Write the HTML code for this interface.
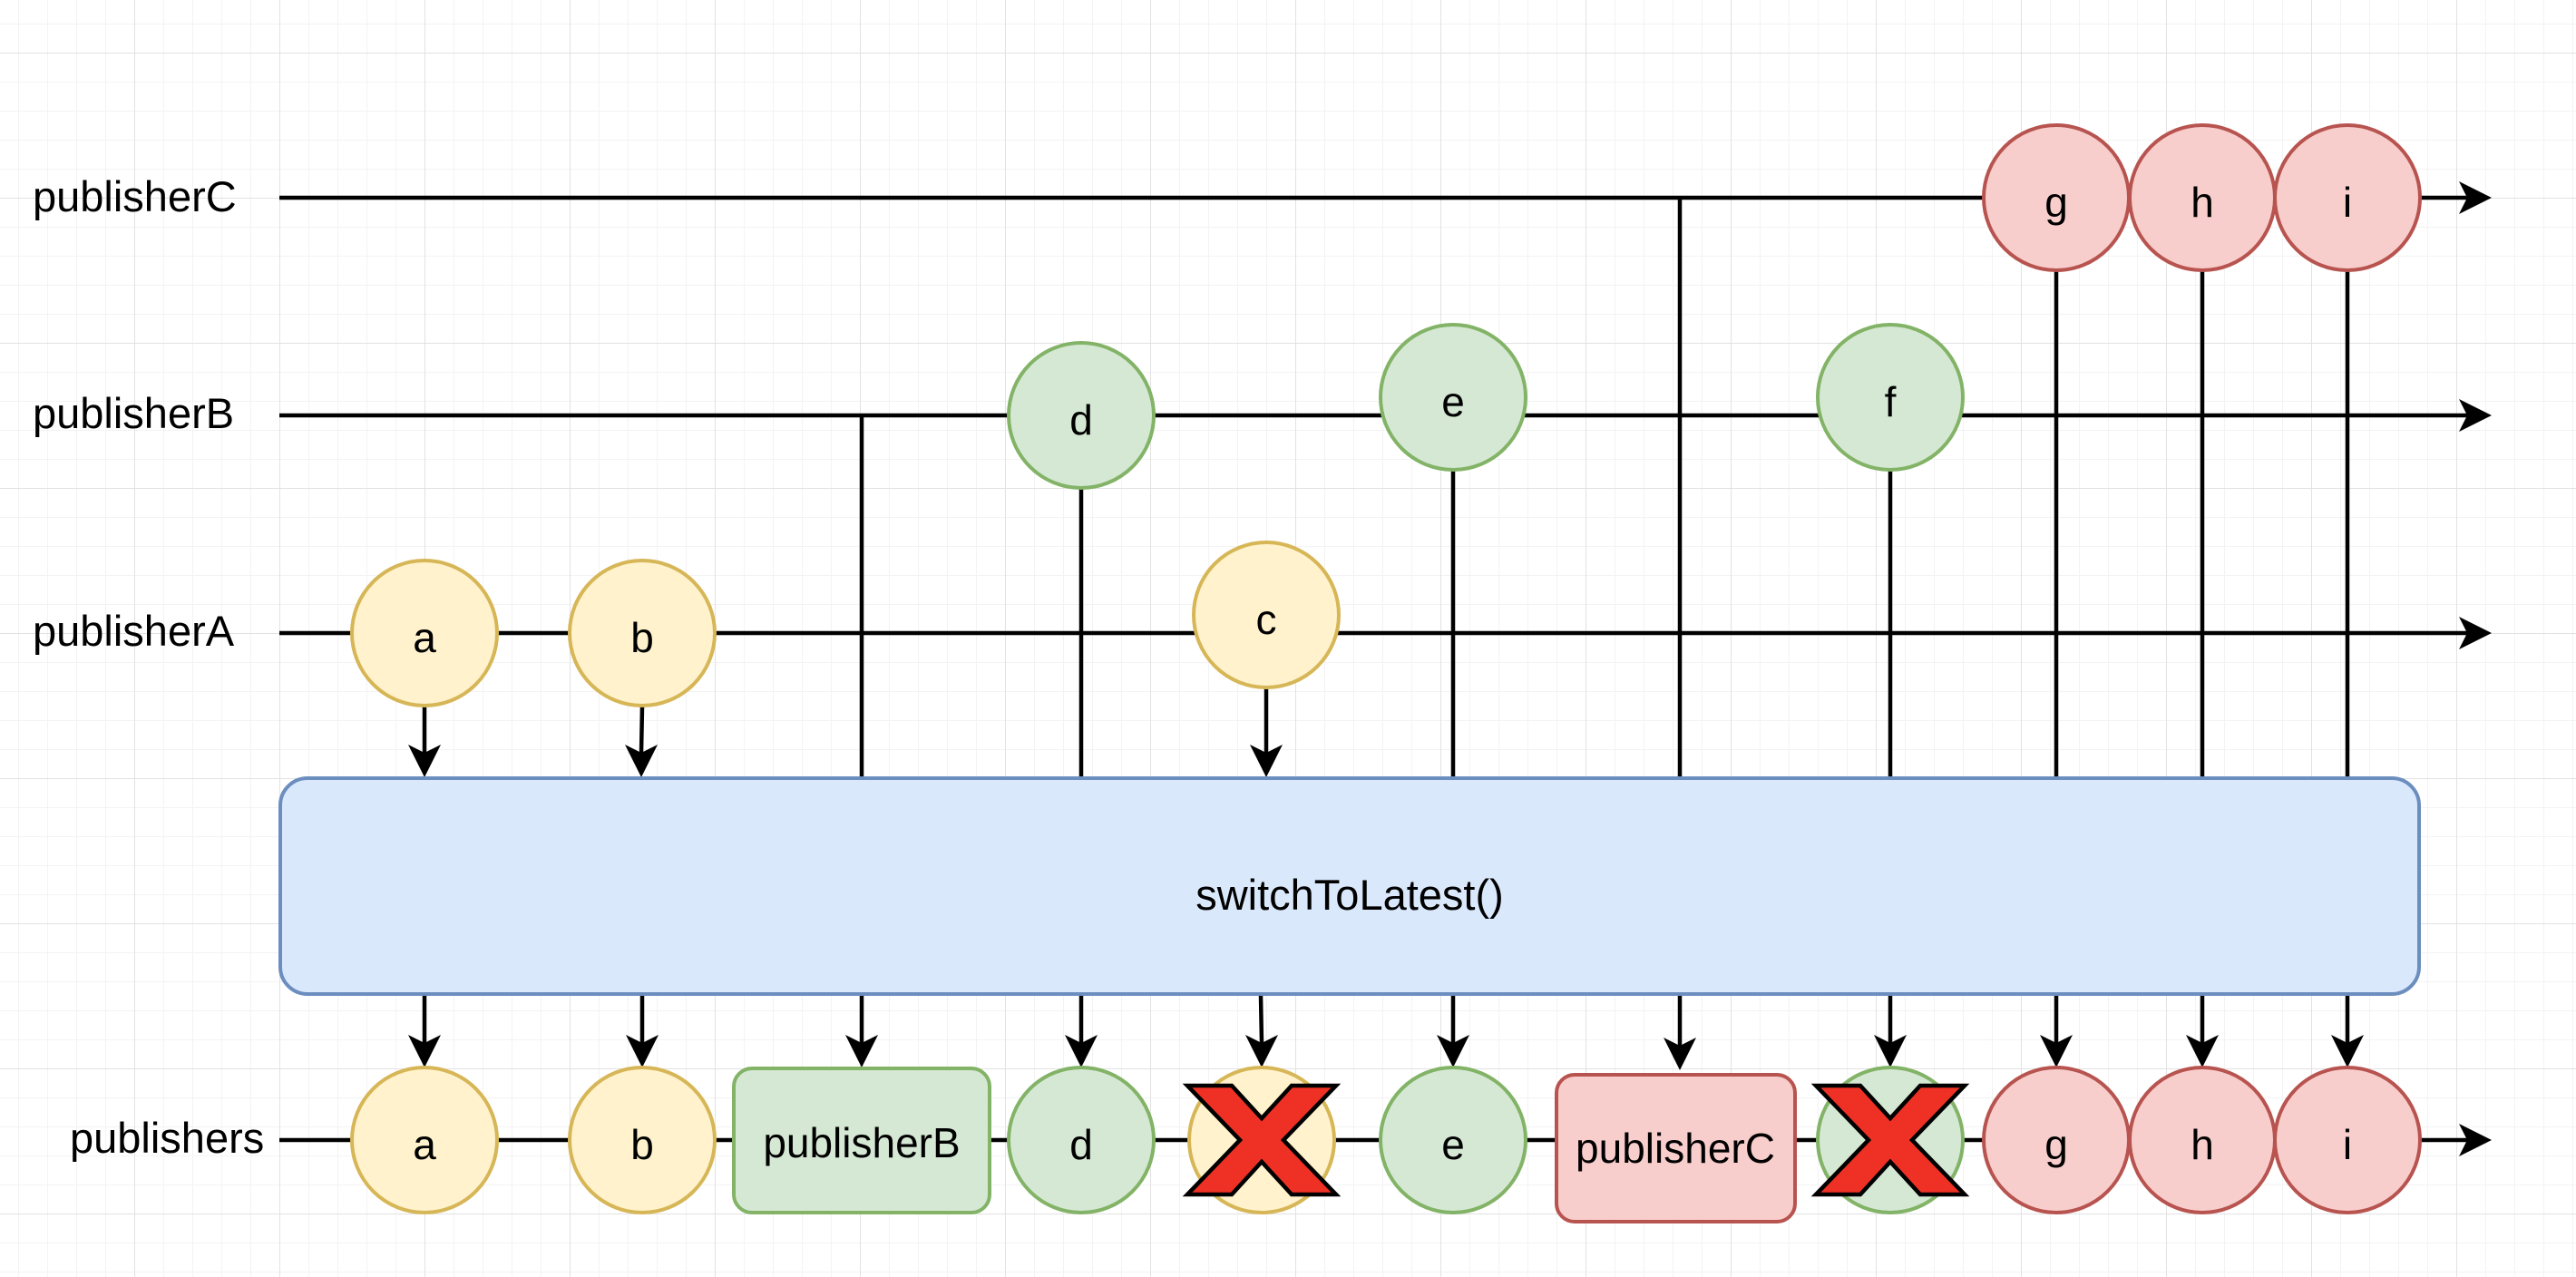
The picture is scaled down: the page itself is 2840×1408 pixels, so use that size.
<!DOCTYPE html>
<html><head><meta charset="utf-8"><style>
html,body{margin:0;padding:0;background:#fff;}
svg{display:block;}
text{font-family:"Liberation Sans",Arial,sans-serif;fill:#000;}
</style></head><body>
<svg width="2840" height="1408" viewBox="0 0 2840 1408" xmlns="http://www.w3.org/2000/svg">
<defs>
<pattern id="minor" x="20" y="26" width="32" height="32" patternUnits="userSpaceOnUse">
<path d="M0 0H32M0 0V32" stroke="#f3f3f3" stroke-width="2" fill="none"/>
</pattern>
<pattern id="major" x="148" y="58" width="160" height="160" patternUnits="userSpaceOnUse">
<path d="M0 0H160M0 0V160" stroke="#e2e2e2" stroke-width="2" fill="none"/>
</pattern>
</defs>
<rect width="2840" height="1408" fill="url(#minor)"/>
<rect width="2840" height="1408" fill="url(#major)"/>

<g stroke="#000" stroke-width="4.5" fill="none">
<line x1="308" y1="218" x2="2722" y2="218"/>
<line x1="308" y1="458" x2="2722" y2="458"/>
<line x1="308" y1="698" x2="2722" y2="698"/>
<line x1="308" y1="1257" x2="2722" y2="1257"/>
<line x1="950" y1="458" x2="950" y2="857"/>
<line x1="1852" y1="218" x2="1852" y2="857"/>
<line x1="1192" y1="539" x2="1192" y2="857"/>
<line x1="1602" y1="519" x2="1602" y2="857"/>
<line x1="2084" y1="519" x2="2084" y2="857"/>
<line x1="2267" y1="299" x2="2267" y2="857"/>
<line x1="2428" y1="299" x2="2428" y2="857"/>
<line x1="2588" y1="299" x2="2588" y2="857"/>
<line x1="468" y1="779" x2="468" y2="830"/>
<line x1="708" y1="779" x2="707" y2="830"/>
<line x1="1396" y1="758" x2="1396" y2="830"/>
<line x1="468" y1="1098" x2="468" y2="1150"/>
<line x1="708" y1="1098" x2="708" y2="1150"/>
<line x1="950" y1="1098" x2="950" y2="1150"/>
<line x1="1192" y1="1098" x2="1192" y2="1150"/>
<line x1="1390" y1="1098" x2="1391" y2="1150"/>
<line x1="1602" y1="1098" x2="1602" y2="1150"/>
<line x1="1852" y1="1098" x2="1852" y2="1155"/>
<line x1="2084" y1="1098" x2="2084" y2="1150"/>
<line x1="2267" y1="1098" x2="2267" y2="1150"/>
<line x1="2428" y1="1098" x2="2428" y2="1150"/>
<line x1="2588" y1="1098" x2="2588" y2="1150"/>
</g>

<g fill="#000">
<path d="M2747 218 L2711 200 L2720 218 L2711 236 Z"/>
<path d="M2747 458 L2711 440 L2720 458 L2711 476 Z"/>
<path d="M2747 698 L2711 680 L2720 698 L2711 716 Z"/>
<path d="M2747 1257 L2711 1239 L2720 1257 L2711 1275 Z"/>
<path d="M468 857 L450 821 L468 830 L486 821 Z"/>
<path d="M707 857 L689 821 L707 830 L725 821 Z"/>
<path d="M1396 857 L1378 821 L1396 830 L1414 821 Z"/>
<path d="M468 1177 L450 1141 L468 1150 L486 1141 Z"/>
<path d="M708 1177 L690 1141 L708 1150 L726 1141 Z"/>
<path d="M950 1177 L932 1141 L950 1150 L968 1141 Z"/>
<path d="M1192 1177 L1174 1141 L1192 1150 L1210 1141 Z"/>
<path d="M1391 1177 L1373 1141 L1391 1150 L1409 1141 Z"/>
<path d="M1602 1177 L1584 1141 L1602 1150 L1620 1141 Z"/>
<path d="M1852 1180 L1834 1144 L1852 1153 L1870 1144 Z"/>
<path d="M2084 1177 L2066 1141 L2084 1150 L2102 1141 Z"/>
<path d="M2267 1177 L2249 1141 L2267 1150 L2285 1141 Z"/>
<path d="M2428 1177 L2410 1141 L2428 1150 L2446 1141 Z"/>
<path d="M2588 1177 L2570 1141 L2588 1150 L2606 1141 Z"/>
</g>

<g font-size="47">
<text x="36" y="233">publisherC</text>
<text x="36" y="472">publisherB</text>
<text x="36" y="712">publisherA</text>
<text x="77" y="1271">publishers</text>
</g>

<rect x="309" y="858" width="2358" height="238" rx="30" ry="30" fill="#dae8fc" stroke="#6c8ebf" stroke-width="4"/>
<text x="1488" y="1003" font-size="47" text-anchor="middle">switchToLatest()</text>

<g stroke-width="4">
<g fill="#fff2cc" stroke="#d6b656">
<circle cx="468" cy="698" r="80"/>
<circle cx="708" cy="698" r="80"/>
<circle cx="1396" cy="678" r="80"/>
<circle cx="468" cy="1257" r="80"/>
<circle cx="708" cy="1257" r="80"/>
<circle cx="1391" cy="1257" r="80"/>
</g>
<g fill="#d5e8d4" stroke="#82b366">
<circle cx="1192" cy="458" r="80"/>
<circle cx="1602" cy="438" r="80"/>
<circle cx="2084" cy="438" r="80"/>
<circle cx="1192" cy="1257" r="80"/>
<circle cx="1602" cy="1257" r="80"/>
<circle cx="2084" cy="1257" r="80"/>
<rect x="809" y="1178" width="282" height="159" rx="20" ry="20"/>
</g>
<g fill="#f8cecc" stroke="#b85450">
<circle cx="2267" cy="218" r="80"/>
<circle cx="2428" cy="218" r="80"/>
<circle cx="2588" cy="218" r="80"/>
<circle cx="2267" cy="1257" r="80"/>
<circle cx="2428" cy="1257" r="80"/>
<circle cx="2588" cy="1257" r="80"/>
<rect x="1716" y="1185" width="263" height="162" rx="20" ry="20"/>
</g>
</g>

<g font-size="46" text-anchor="middle">
<text x="468" y="719">a</text>
<text x="708" y="719">b</text>
<text x="1396" y="699">c</text>
<text x="1192" y="479">d</text>
<text x="1602" y="459">e</text>
<text x="2084" y="459">f</text>
<text x="2267" y="239">g</text>
<text x="2428" y="239">h</text>
<text x="2588" y="239">i</text>
<text x="468" y="1278">a</text>
<text x="708" y="1278">b</text>
<text x="950" y="1276">publisherB</text>
<text x="1192" y="1278">d</text>
<text x="1602" y="1278">e</text>
<text x="1847" y="1282">publisherC</text>
<text x="2267" y="1278">g</text>
<text x="2428" y="1278">h</text>
<text x="2588" y="1278">i</text>
</g>

<g fill="#ee3124" stroke="#000" stroke-width="4.5" stroke-linejoin="miter">
<polygon transform="translate(1391,1257)" points="-82,-60 -33,-60 0,-24 33,-60 82,-60 24,0 82,60 33,60 0,24 -33,60 -82,60 -24,0"/>
<polygon transform="translate(2084,1257)" points="-82,-60 -33,-60 0,-24 33,-60 82,-60 24,0 82,60 33,60 0,24 -33,60 -82,60 -24,0"/>
</g>
</svg>
</body></html>
